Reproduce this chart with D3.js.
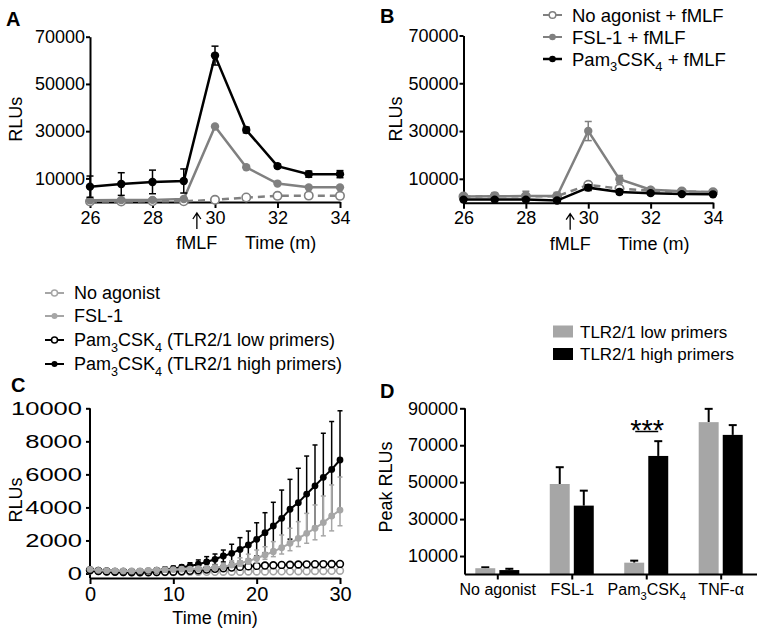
<!DOCTYPE html>
<html><head><meta charset="utf-8">
<script src="https://cdn.jsdelivr.net/npm/d3@7"></script>
<style>
body{margin:0;background:#fff;}
svg text{font-family:"Liberation Sans",Arial,Helvetica,sans-serif;fill:#000;}
</style></head><body>
<svg id="chart" width="764" height="635"></svg>
<script>
// ---------- Panels A & B (fMLF added at ~29.4 min) ----------
const timeAB = [26,27,28,29,30,31,32,33,34];
const xTicksAB = [26,28,30,32,34];
const yTicksAB = [10000,30000,50000,70000];
const aNoAgonist = [200,200,300,300,900,1900,2600,2700,2600];
const aFSL1 = [700,800,900,1300,32000,14700,7800,6200,6200];
const aPam = [6500,7600,8500,8900,62000,30500,15200,11800,11800];
const aPamErr = [4500,4800,5000,5100,4000,1200,800,1300,1500];
const bNoAgonist = [2600,2700,2700,2700,7500,5900,5000,4700,4400];
const bFSL1 = [2600,2700,2800,2800,30000,9800,5400,4800,4400];
const bFSL1Err = [1000,1500,2000,1500,4000,1600,800,600,600];
const bPam = [1300,1300,1300,900,6300,4500,4000,3600,3500];
const bPamErr = [500,500,500,500,1200,1000,600,500,500];
const legendB = ["No agonist + fMLF","FSL-1 + fMLF","Pam_3CSK_4 + fMLF"];

// ---------- Panel C ----------
const timeC = [0,1,2,3,4,5,6,7,8,9,10,11,12,13,14,15,16,17,18,19,20,21,22,23,24,25,26,27,28,29,30];
const xTicksC = [0,10,20,30];
const yTicksC = [0,2000,4000,6000,8000,10000];
const cNoAgonist = [200,150,120,100,90,90,90,90,90,90,90,100,100,100,100,100,110,110,110,120,120,120,130,130,130,140,140,150,150,160,170];
const cFSL1 = [250,190,170,160,150,150,160,190,210,230,240,260,270,290,310,350,410,510,620,760,920,1120,1320,1560,1830,2130,2430,2740,3080,3480,3840];
const cFSL1ErrHi = [50,40,40,40,40,40,40,50,50,60,60,70,80,90,120,150,200,260,330,410,500,500,610,770,910,1010,1210,1410,1610,1880,2000];
const cFSL1ErrLo = [30,30,30,30,30,30,30,30,30,40,40,40,50,60,70,80,100,130,170,200,250,260,300,380,450,500,600,700,800,900,950];
const cLow = [200,150,120,100,90,80,80,80,90,100,110,130,160,200,240,280,320,360,400,430,460,480,500,520,530,545,555,565,570,575,580];
const cHigh = [200,150,120,110,100,100,120,150,200,250,300,380,450,560,700,860,1060,1220,1460,1730,2070,2470,2880,3340,3890,4290,4810,5310,5820,6300,6870];
const cHighErr = [50,50,50,50,50,50,60,80,100,120,150,130,200,260,320,320,360,550,710,840,1000,1210,1430,1710,1810,2080,2300,2470,2670,2900,2980];
const legendC = ["No agonist","FSL-1","Pam_3CSK_4 (TLR2/1 low primers)","Pam_3CSK_4 (TLR2/1 high primers)"];

// ---------- Panel D ----------
const categoriesD = ["No agonist","FSL-1","Pam_3CSK_4","TNF-α"];
const yTicksD = [10000,30000,50000,70000,90000];
const dLow = [3400,49000,6400,82500];
const dLowErr = [500,9100,1100,7200];
const dHigh = [2400,37300,64200,75600];
const dHighErr = [700,8100,8000,5300];
const legendD = ["TLR2/1 low primers","TLR2/1 high primers"];

// ---------- helpers ----------
const svg = d3.select("#chart");
const GRAY = "#808080", LGRAY = "#a6a6a6";

function rich(t, str, fs){
  t.text(null);
  const parts = str.split(/_(\d)/);
  let shifted = false;
  parts.forEach((p,i)=>{
    if(i%2===1){ t.append("tspan").attr("dy", fs*0.3).attr("font-size", fs*0.7).text(p); shifted = true; }
    else if(p){ const ts = t.append("tspan").text(p); if(shifted){ ts.attr("dy", -fs*0.3); shifted=false; } }
  });
}
function styleAxis(g, fs){
  g.selectAll(".domain").attr("stroke","#000").attr("stroke-width",2);
  g.selectAll(".tick line").attr("stroke","#000").attr("stroke-width",2);
  g.selectAll(".tick text").attr("font-size",fs).attr("font-family",'"Liberation Sans",Arial,sans-serif').attr("fill","#000");
}
function series(g, x, y, xs, vals, o){
  const line = d3.line().x((d,i)=>x(xs[i])).y(d=>y(d));
  if(o.err){
    const eg = g.append("g");
    vals.forEach((v,i)=>{
      const hi = o.err[i], lo = o.errLo ? o.errLo[i] : (o.upOnly ? 0 : o.err[i]);
      const cx = x(xs[i]);
      eg.append("line").attr("x1",cx).attr("x2",cx).attr("y1",y(v-lo)).attr("y2",y(v+hi)).attr("stroke",o.ecolor||o.color).attr("stroke-width",o.ew||1.5);
      eg.append("line").attr("x1",cx-o.cap).attr("x2",cx+o.cap).attr("y1",y(v+hi)).attr("y2",y(v+hi)).attr("stroke",o.ecolor||o.color).attr("stroke-width",o.ew||1.5);
      if(lo>0) eg.append("line").attr("x1",cx-o.cap).attr("x2",cx+o.cap).attr("y1",y(v-lo)).attr("y2",y(v-lo)).attr("stroke",o.ecolor||o.color).attr("stroke-width",o.ew||1.5);
    });
  }
  g.append("path").attr("d",line(vals)).attr("fill","none").attr("stroke",o.color).attr("stroke-width",o.lw).attr("stroke-dasharray",o.dash||null);
  g.selectAll(null).data(vals).enter().append("circle")
    .attr("cx",(d,i)=>x(xs[i])).attr("cy",d=>y(d)).attr("r",o.r)
    .attr("fill",o.open?"#fff":o.color).attr("stroke",o.color).attr("stroke-width",o.open?1.6:0);
}
function panelLabel(txt,x,y){
  svg.append("text").attr("x",x).attr("y",y).attr("font-size",20).attr("font-weight","bold").text(txt);
}
function legendRow(x,y,label,o,fs){
  svg.append("line").attr("x1",x).attr("x2",x+19).attr("y1",y).attr("y2",y).attr("stroke",o.color).attr("stroke-width",o.lw||2).attr("stroke-dasharray",o.dash||null);
  svg.append("circle").attr("cx",x+9.5).attr("cy",y).attr("r",o.r||3.5).attr("fill",o.open?"#fff":o.color).attr("stroke",o.color).attr("stroke-width",o.open?1.5:0);
  const t = svg.append("text").attr("x",x+29).attr("y",y).attr("dy","0.36em").attr("font-size",fs);
  rich(t,label,fs);
}

// ---------- Panel A / B builder ----------
function panelAB(x0, left, top, bottom, right, data){
  const x = d3.scaleLinear().domain([26,34]).range([left,right]);
  const y = d3.scaleLinear().domain([0,70000]).range([bottom,top]);
  const g = svg.append("g");
  const ya = g.append("g").attr("transform",`translate(${left},0)`)
    .call(d3.axisLeft(y).tickValues(yTicksAB).tickSize(4).tickPadding(1).tickSizeOuter(0).tickFormat(d3.format("d")));
  styleAxis(ya,18);
  const xa = g.append("g").attr("transform",`translate(0,${bottom})`)
    .call(d3.axisBottom(x).tickValues(xTicksAB).tickSize(6).tickPadding(3).tickSizeOuter(0));
  styleAxis(xa,18);
  const ax = x(29.42);
  g.append("path").attr("d",`M${ax},${bottom+27}V${bottom+12}M${ax-4},${bottom+17}L${ax},${bottom+11}L${ax+4},${bottom+17}`).attr("fill","none").attr("stroke","#000").attr("stroke-width",1.3);
  g.append("text").attr("x",ax).attr("y",bottom+47).attr("font-size",18).attr("text-anchor","middle").text("fMLF");
  g.append("text").attr("x",x(32.1)).attr("y",bottom+47).attr("font-size",18).attr("text-anchor","middle").text("Time (m)");
  g.append("text").attr("transform",`translate(${x0+22},${(top+bottom)/2}) rotate(-90)`).attr("text-anchor","middle").attr("font-size",18).text("RLUs");
  data(g,x,y);
}

// Panel A
panelLabel("A",6,26);
panelAB(0, 90, 36.7, 202, 340, (g,x,y)=>{
  series(g,x,y,timeAB,aNoAgonist,{color:GRAY,lw:2.5,r:4.2,open:true,dash:"7,5"});
  series(g,x,y,timeAB,aFSL1,{color:GRAY,lw:2.5,r:4.2});
  series(g,x,y,timeAB,aPam,{color:"#000",lw:2.5,r:4.2,err:aPamErr,cap:3.5});
});
// Panel B
panelLabel("B",380,23);
panelAB(380, 463.5, 35.5, 202.7, 713, (g,x,y)=>{
  series(g,x,y,timeAB,bNoAgonist,{color:GRAY,lw:2.5,r:4.2,open:true,dash:"7,5"});
  series(g,x,y,timeAB,bFSL1,{color:GRAY,lw:2.5,r:4.2,err:bFSL1Err,cap:3.5});
  series(g,x,y,timeAB,bPam,{color:"#000",lw:2.5,r:4.2,err:bPamErr,cap:3.5});
});
legendRow(543,15,legendB[0],{color:GRAY,open:true,r:3.3,lw:2},18.5);
legendRow(543,37,legendB[1],{color:GRAY,r:3.3,lw:2},18.5);
legendRow(543,59,legendB[2],{color:"#000",r:3.3,lw:2.5},18.5);

// ---------- Panel C ----------
legendRow(45,293,legendC[0],{color:LGRAY,open:true,r:3,lw:2},18);
legendRow(45,316,legendC[1],{color:LGRAY,r:3,lw:2},18);
legendRow(45,340,legendC[2],{color:"#000",open:true,r:3,lw:2},18);
legendRow(45,364,legendC[3],{color:"#000",r:3,lw:2},18);
panelLabel("C",11,392);
{
  const x = d3.scaleLinear().domain([0,30]).range([90,340]);
  const y = d3.scaleLinear().domain([0,10000]).range([573.5,408.3]);
  const axY = 578;
  const g = svg.append("g");
  const ya = g.append("g").attr("transform","translate(90,0)")
    .call(d3.axisLeft(y).tickValues(yTicksC).tickSize(4).tickPadding(3).tickSizeOuter(0).tickFormat(d3.format("d")));
  ya.select(".domain").attr("d",`M0,${axY}V${y(10000)}`);
  styleAxis(ya,18);
  const sx = 1.42;
  ya.selectAll(".tick text").attr("x",-8/sx).attr("transform",`scale(${sx},1)`);
  const xa = g.append("g").attr("transform",`translate(0,${axY})`)
    .call(d3.axisBottom(x).tickValues(xTicksC).tickSize(6).tickPadding(3).tickSizeOuter(0));
  styleAxis(xa,20);
  g.append("text").attr("x",x(15)).attr("y",624).attr("font-size",18).attr("text-anchor","middle").text("Time (min)");
  g.append("text").attr("transform",`translate(22,500) rotate(-90)`).attr("text-anchor","middle").attr("font-size",18).text("RLUs");
  series(g,x,y,timeC,cNoAgonist,{color:LGRAY,lw:1.8,r:3.4,open:true});
  series(g,x,y,timeC,cLow,{color:"#000",lw:1.8,r:3.4,open:true});
  series(g,x,y,timeC,cHigh,{color:"#000",lw:2,r:3.4,err:cHighErr,cap:2.5,ew:1.5});
  series(g,x,y,timeC,cFSL1,{color:LGRAY,lw:2,r:3.4,err:cFSL1ErrHi,errLo:cFSL1ErrLo,cap:2.5,ew:1.5});
}

// ---------- Panel D ----------
panelLabel("D",380,398);
{
  const x = d3.scalePoint().domain(categoriesD).range([497.3,720.7]);
  const x1 = d3.scaleBand().domain(["low","high"]).range([-22,22]).paddingInner(0.17);
  const y = d3.scaleLinear().domain([0,90000]).range([574.5,408.3]);
  const g = svg.append("g");
  const groups = [{key:"low",vals:dLow,err:dLowErr,color:LGRAY},{key:"high",vals:dHigh,err:dHighErr,color:"#000"}];
  groups.forEach(s=>{
    categoriesD.forEach((c,i)=>{
      const bx = x(c)+x1(s.key), bw = x1.bandwidth(), cx = bx+bw/2;
      const top = y(s.vals[i]+s.err[i]);
      g.append("line").attr("x1",cx).attr("x2",cx).attr("y1",y(s.vals[i])).attr("y2",top).attr("stroke","#000").attr("stroke-width",2);
      g.append("line").attr("x1",cx-4).attr("x2",cx+4).attr("y1",top).attr("y2",top).attr("stroke","#000").attr("stroke-width",2);
      g.append("rect").attr("x",bx).attr("width",bw).attr("y",y(s.vals[i])).attr("height",y(0)-y(s.vals[i])).attr("fill",s.color);
    });
  });
  const ya = g.append("g").attr("transform","translate(465,0)")
    .call(d3.axisLeft(y).tickValues(yTicksD).tickSize(5).tickPadding(2).tickSizeOuter(0).tickFormat(d3.format("d")));
  ya.select(".domain").attr("d",`M0,${y(0)}V${y(90000)}`);
  styleAxis(ya,18);
  const xa = g.append("g").attr("transform",`translate(0,${y(0)})`)
    .call(d3.axisBottom(x).tickSize(5).tickPadding(4).tickSizeOuter(0));
  xa.select(".domain").attr("d",`M465,0H757`);
  styleAxis(xa,16);
  xa.selectAll(".tick text").each(function(d){ rich(d3.select(this), d, 16); });
  g.append("text").attr("transform",`translate(392,487) rotate(-90)`).attr("text-anchor","middle").attr("font-size",18).text("Peak RLUs");
  // significance
  const pc = x(categoriesD[2]);
  g.append("line").attr("x1",pc-11).attr("x2",pc+12).attr("y1",431.5).attr("y2",431.5).attr("stroke","#000").attr("stroke-width",1.5);
  g.append("text").attr("x",pc+1).attr("y",440).attr("font-size",29).attr("text-anchor","middle").text("***");
  // legend
  legendD.forEach((l,i)=>{
    const ly = 331.5 + i*22.5;
    svg.append("rect").attr("x",553).attr("y",ly-6).attr("width",20).attr("height",12).attr("fill",groups[i].color);
    svg.append("text").attr("x",580).attr("y",ly).attr("dy","0.36em").attr("font-size",17).text(l);
  });
}
</script>
</body></html>
